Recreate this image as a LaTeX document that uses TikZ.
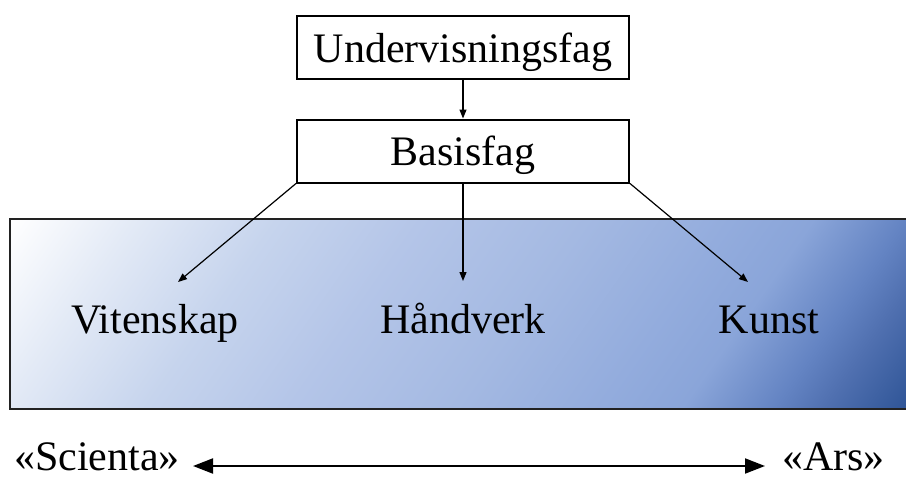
\documentclass[tikz,border=0pt]{standalone}
\usepackage{fontspec}
\setmainfont{Liberation Serif}
\usetikzlibrary{arrows.meta}

% colours of the field gradient, from light to dark
\definecolor{fieldA}{HTML}{FFFFFF}
\definecolor{fieldB}{HTML}{E3EAF6}
\definecolor{fieldC}{HTML}{C6D4ED}
\definecolor{fieldD}{HTML}{B4C5E8}
\definecolor{fieldE}{HTML}{A4B9E2}
\definecolor{fieldF}{HTML}{93ACDD}
\definecolor{fieldG}{HTML}{8AA5D9}
\definecolor{fieldH}{HTML}{6484C3}
\definecolor{fieldI}{HTML}{5070B0}
\definecolor{fieldJ}{HTML}{2F5597}
\definecolor{frame}{HTML}{222222}

% stops for a disc of radius 470pt centred on the field
\pgfdeclarehorizontalshading{fieldshade}{100bp}{%
  color(0bp)=(fieldA); color(27.6bp)=(fieldA); color(33bp)=(fieldB);
  color(39.2bp)=(fieldC); color(45.5bp)=(fieldD); color(52.7bp)=(fieldE);
  color(59bp)=(fieldF); color(62.6bp)=(fieldG); color(66.6bp)=(fieldH);
  color(68.8bp)=(fieldI); color(72.4bp)=(fieldJ); color(100bp)=(fieldJ)}

\tikzset{
  bigfont/.style={font=\fontsize{42}{50}\selectfont},
  termbox/.style={draw=black, line width=2pt, minimum width=332pt,
    minimum height=63pt, text height=38pt, text depth=9pt, inner sep=0pt,
    bigfont},
  term/.style={bigfont, anchor=base, inner sep=0pt},
  pole/.style={bigfont, inner sep=0pt, text depth=0pt},
  link/.style={line width=1.2pt, -{Triangle[length=9pt, width=7pt]}},
  scale arrow/.style={line width=2pt,
    {Triangle[length=20pt, width=15pt]}-{Triangle[length=20pt, width=15pt]}},
  % diagonal gradient: a shaded disc seen through the field's outline
  field fill/.style={path picture={
    \shade[shading=fieldshade, shading angle=-35]
      (path picture bounding box.center) circle (470pt);}},
}

\begin{document}
\begin{tikzpicture}[x=1pt, y=-1pt]
  \useasboundingbox (0,0) rectangle (906,477);

  % shaded field holding the three kinds of subject
  \node[field fill, draw=frame, line width=2pt,
        minimum width=897pt, minimum height=190pt, inner sep=0pt]
        (field) at (458.5,314) {};

  % the two boxes on top
  \node[termbox] (under) at (463,47.5) {Undervisningsfag};
  \node[termbox] (basis) at (463,151) {Basisfag};

  % the three kinds
  \node[term] (vit) at (155,333) {Vitenskap};
  \node[term] (hand) at (463,333) {Håndverk};
  \node[term] (kunst) at (769,333) {Kunst};

  % arrow tips above the three words
  \coordinate (vtip) at (178,282);
  \coordinate (htip) at (463,281);
  \coordinate (ktip) at (748,282);

  \draw[link] (under.south) -- (basis.north);
  \draw[link] (basis.south west) -- (vtip);
  \draw[link] (basis.south) -- (htip);
  \draw[link] (basis.south east) -- (ktip);

  % the scale from Scienta to Ars
  \node[pole, anchor=base west] (sci) at (14,470) {«Scienta»};
  \node[pole, anchor=base east] (ars) at (885,470) {«Ars»};
  \coordinate (sciend) at (193,466);
  \coordinate (arsend) at (765,466);
  \draw[scale arrow] (sciend) -- (arsend);
\end{tikzpicture}
\end{document}
